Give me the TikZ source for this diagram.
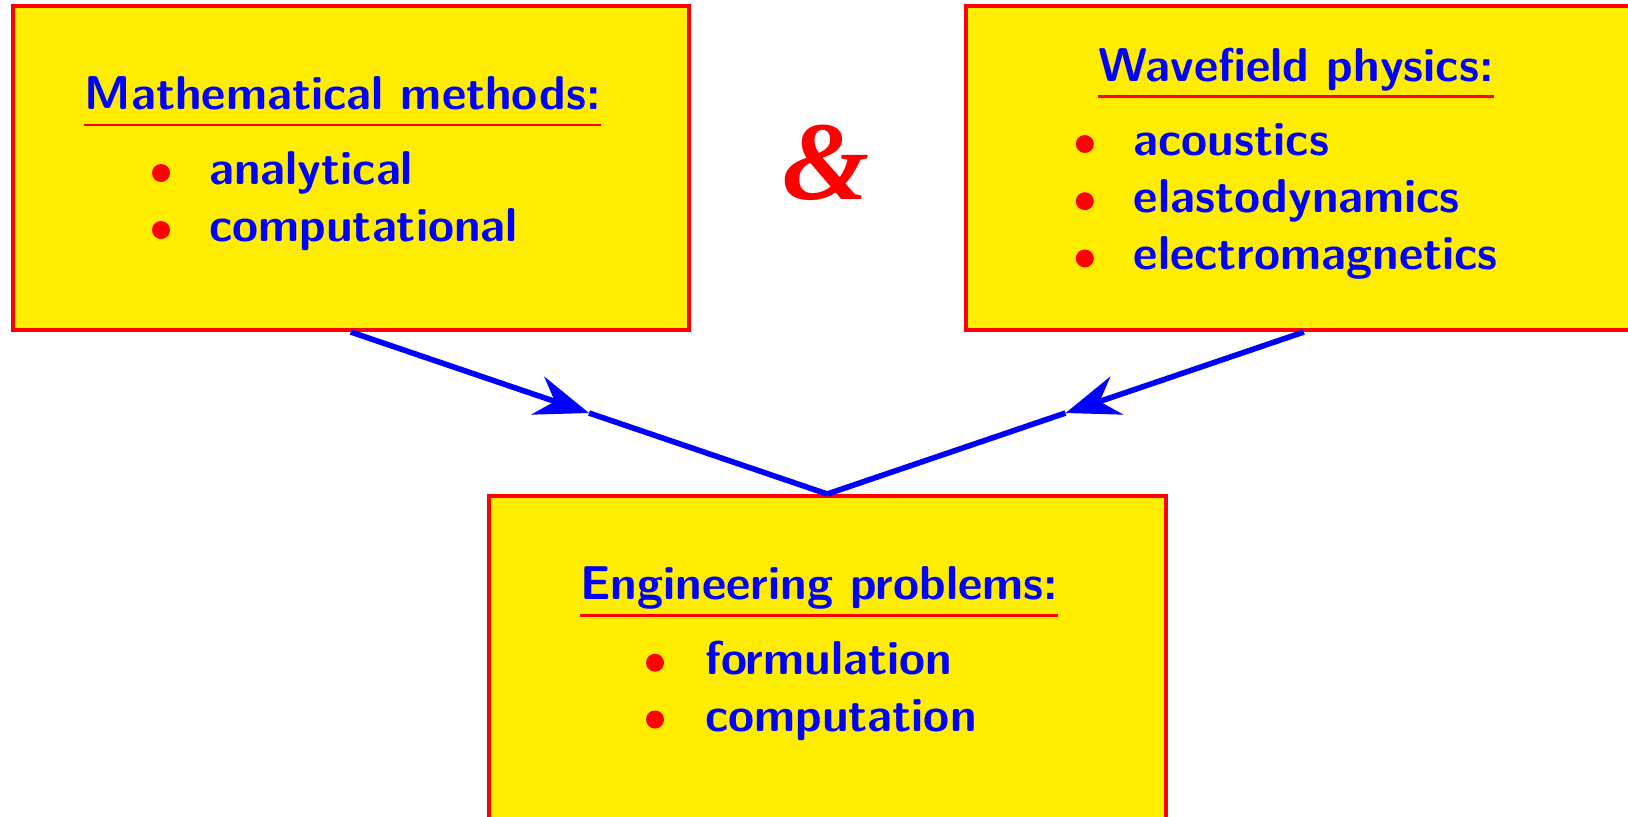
\documentclass[tikz,border=0pt]{standalone}
\usepackage{fontspec}
\newfontfamily\ampfont{Liberation Serif}
\usetikzlibrary{arrows.meta,calc}
\definecolor{boxyellow}{RGB}{255,237,0}
\begin{document}
\begin{tikzpicture}[x=0.5pt,y=-0.5pt,
  box/.style={draw=red,fill=boxyellow,line width=2pt,minimum width=338.25pt,minimum height=162pt,inner sep=0pt},
  ttl/.style={text=blue,font=\fontsize{23.7}{28}\selectfont\sffamily\bfseries,inner sep=0pt,anchor=base},
  itm/.style={text=blue,font=\fontsize{23.7}{28}\selectfont\sffamily\bfseries,inner sep=0pt,anchor=base west},
  dot/.style={circle,fill=red,inner sep=0pt,minimum size=9pt},
  uline/.style={draw=red,line width=1.3pt},
  conn/.style={draw=blue,line width=2.8pt},
  tip/.style={-{Stealth[length=27pt,width=20pt,inset=9pt]}},
  amp/.style={text=red,font=\ampfont\fontsize{56}{60}\selectfont\bfseries\itshape,inner sep=0pt}
]
\useasboundingbox (0,0) rectangle (1628,816);
\clip (0,0) rectangle (1628,816);
% boxes
\node[box] (b1) at (350.75,168) {};
\node[box] (b2) at (1303.85,168) {};
\node[box] (b3) at (827.25,658) {};
% left box content
\node[ttl] (t1) at (342.75,109.3) {Mathematical methods:};
\draw[uline] ([yshift=-7.85pt]t1.base west) -- ([yshift=-7.85pt]t1.base east);
\node[dot] (d11) at (161,173) {};
\node[dot] (d12) at (161,230) {};
\node[itm] (i11) at (209,184.5) {analytical};
\node[itm] (i12) at (209,241) {computational};
% right box content
\node[ttl] (t2) at (1295.85,81) {Wavefield physics:};
\draw[uline] ([yshift=-7.85pt]t2.base west) -- ([yshift=-7.85pt]t2.base east);
\node[dot] (d21) at (1084.8,144) {};
\node[dot] (d22) at (1084.8,201.2) {};
\node[dot] (d23) at (1084.8,258.4) {};
\node[itm] (i21) at (1133.4,155.5) {acoustics};
\node[itm] (i22) at (1133.4,212.7) {elastodynamics};
\node[itm] (i23) at (1133.4,269.9) {electromagnetics};
% bottom box content
\node[ttl] (t3) at (819.25,599.5) {Engineering problems:};
\draw[uline] ([yshift=-7.85pt]t3.base west) -- ([yshift=-7.85pt]t3.base east);
\node[dot] (d31) at (655,662.7) {};
\node[dot] (d32) at (655,719.5) {};
\node[itm] (i31) at (704.7,674.2) {formulation};
\node[itm] (i32) at (704.7,731) {computation};
% ampersand
\node[amp] (amp) at (826,163) {\&};
% connectors
\coordinate (m1) at ($(b1.south)!0.5!(b3.north)$);
\coordinate (m2) at ($(b2.south)!0.5!(b3.north)$);
\draw[conn,tip] (b1.south) -- (m1);
\draw[conn] (m1) -- (b3.north);
\draw[conn,tip] (b2.south) -- (m2);
\draw[conn] (m2) -- (b3.north);
\end{tikzpicture}
\end{document}
